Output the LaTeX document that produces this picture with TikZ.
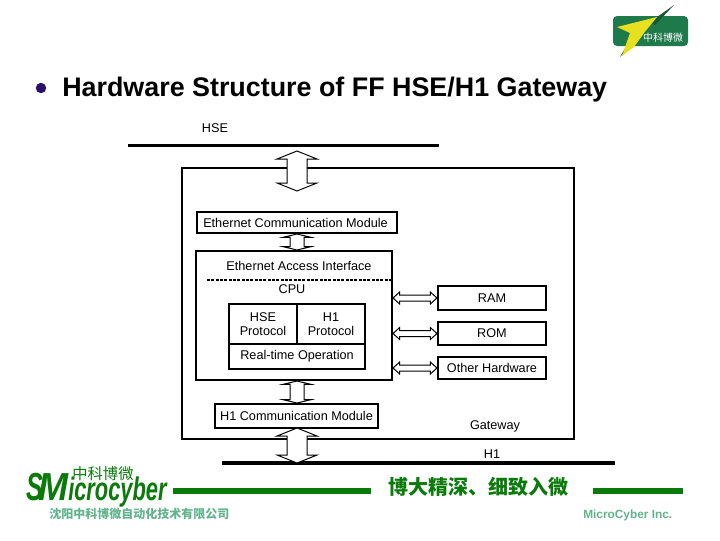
\documentclass[tikz,border=0pt]{standalone}
\usepackage{fontspec}
\setmainfont{Liberation Sans}
\newfontfamily\cjk{Noto Sans CJK SC}
\usetikzlibrary{calc}
\definecolor{logogreen}{HTML}{0A7A0A}
\definecolor{softgreen}{HTML}{62B48C}
\definecolor{badgegreen}{HTML}{1F7A4B}
\definecolor{boltyellow}{HTML}{E6E021}
\definecolor{bulletblue}{HTML}{2B0F6E}
\tikzset{
  box/.style={draw,line width=1.5pt,fill=white,inner sep=0pt,font=\fontsize{9.5}{10.5}\selectfont,align=center},
  label/.style={inner sep=0pt,font=\fontsize{9.5}{10.5}\selectfont},
  bus/.style={line width=#1,line cap=butt},
  block link/.style n args={3}{line width=.75pt,fill=white,to path={
    -- ($(\tikztostart)!#3!(\tikztotarget)!#1!90:(\tikztotarget)$)
    -- ($(\tikztostart)!#3!(\tikztotarget)!#2!90:(\tikztotarget)$)
    -- ($(\tikztotarget)!#3!(\tikztostart)!#2!-90:(\tikztostart)$)
    -- ($(\tikztotarget)!#3!(\tikztostart)!#1!-90:(\tikztostart)$)
    -- (\tikztotarget)
    -- ($(\tikztotarget)!#3!(\tikztostart)!#1!90:(\tikztostart)$)
    -- ($(\tikztotarget)!#3!(\tikztostart)!#2!90:(\tikztostart)$)
    -- ($(\tikztostart)!#3!(\tikztotarget)!#2!-90:(\tikztotarget)$)
    -- ($(\tikztostart)!#3!(\tikztotarget)!#1!-90:(\tikztotarget)$)
    -- cycle}},
  big link/.style={block link={15pt}{7.5pt}{6pt}},
  mid link/.style={block link={10.5pt}{5.25pt}{2.5pt}},
  side link/.style={block link={4.5pt}{2.25pt}{5pt}},
  logo/.style={anchor=base west,inner sep=0pt,text=logogreen,font=\bfseries\itshape}
}
\begin{document}
\begin{tikzpicture}[x=.75pt,y=-.75pt]
\useasboundingbox (0,0) rectangle (720,540);

% top right badge
\fill[badgegreen,rounded corners=3pt] (613,16) rectangle (688,46);
\fill[badgegreen!70!black] (674,5) -- (650,22) -- (655,25) -- cycle;
\fill[badgegreen!70!black] (630,40) -- (620,57) -- (636,40) -- cycle;
\fill[boltyellow] (617,27) -- (657,17) -- (644,33) -- (634,47) -- (622,56) -- (630,33) -- cycle;
\node[inner sep=0pt,text=white,font=\cjk\fontsize{7.5}{9}\selectfont] (badge) at (663,38) {中科博微};

% title
\fill[bulletblue] (41,88) circle (3.9pt);
\node[anchor=west,inner sep=0pt,font=\bfseries\fontsize{20.15}{23}\selectfont] (title) at (62,90) {Hardware Structure of FF HSE/H1 Gateway};

% gateway frame
\node[box,minimum width=294pt,minimum height=203.25pt] (gw) at (378,303.5) {};
\node[label] (hselab) at (215,128) {HSE};
\node[label] (h1lab) at (492,454) {H1};
\node[label] (gwlab) at (495,426) {Gateway};

% modules
\node[box,minimum width=150pt,minimum height=15.75pt] (eth) at (296.5,222.5) {\kern-1.5pt Ethernet Communication Module};
\node[box,minimum width=147pt,minimum height=96.75pt] (cpu) at (294,315.5) {};
\node[box,minimum width=122.25pt,minimum height=18pt] (h1m) at (296.5,416) {H1 Communication Module};
\node[label] (acc) at (299,266) {Ethernet Access Interface};
\node[label] (cpulab) at (292,289) {CPU};
\node[box,minimum width=51pt,minimum height=30pt] (hsep) at (263,324) {HSE\\Protocol};
\node[box,minimum width=51pt,minimum height=30pt] (h1p) at (331,324) {H1\\Protocol};
\node[box,minimum width=102pt,minimum height=18.75pt] (rt) at (297,356.5) {Real-time Operation};
\node[box,minimum width=81pt,minimum height=18pt] (ram) at (492,298) {RAM};
\node[box,minimum width=81pt,minimum height=17.25pt] (rom) at (492,333.5) {ROM};
\node[box,minimum width=81pt,minimum height=16.5pt] (other) at (492,368) {Other Hardware};

% ends of the links and buses
\coordinate (mid) at (297,0);
\coordinate (topA) at (297,151);
\coordinate (topB) at (297,191);
\coordinate (lowA) at (297,428);
\coordinate (lowB) at (297,463);
\coordinate (ethS) at (eth.south -| mid);
\coordinate (cpuN) at (cpu.north -| mid);
\coordinate (cpuS) at (cpu.south -| mid);
\coordinate (h1N) at (h1m.north -| mid);
\coordinate (cpuRam) at (cpu.east |- ram);
\coordinate (cpuRom) at (cpu.east |- rom);
\coordinate (cpuOth) at (cpu.east |- other);
\coordinate (hseL) at (128,145);
\coordinate (hseR) at (439,145);
\coordinate (h1L) at (222,463);
\coordinate (h1R) at (615,463);
\coordinate (dashL) at (207,280);
\coordinate (dashR) at (391,280);

\draw[bus=2.25pt] (hseL) -- (hseR);
\draw[bus=3pt] (h1L) -- (h1R);
\draw[line width=1.5pt,dash pattern=on 2.25pt off 1pt] (dashL) -- (dashR);

\draw[big link] (topA) to (topB);
\draw[big link] (lowA) to (lowB);
\draw[mid link] (ethS) to (cpuN);
\draw[mid link] (cpuS) to (h1N);
\draw[side link] (cpuRam) to (ram.west);
\draw[side link] (cpuRom) to (rom.west);
\draw[side link] (cpuOth) to (other.west);

% footer
\coordinate (lineAL) at (173,491);
\coordinate (lineAR) at (371,491);
\coordinate (lineBL) at (593,491);
\coordinate (lineBR) at (683,491);
\draw[bus=4.5pt,logogreen] (lineAL) -- (lineAR);
\draw[bus=4.5pt,logogreen] (lineBL) -- (lineBR);
\node[logo] (logoS) at (26,500) {\scalebox{1.9}[2.93]{S}};
\node[logo] (logoM) at (38,500) {\scalebox{2.7}[2.93]{M}};
\node[logo] (logoT) at (68,500) {\fontsize{18}{20}\selectfont\scalebox{.91}[1.36]{icrocyber}};
\node[anchor=west,inner sep=0pt,text=logogreen,font=\cjk\fontsize{11.5}{13}\selectfont] (logoC) at (72,474) {中科博微};
\node[anchor=west,inner sep=0pt,text=softgreen,font=\cjk\bfseries\fontsize{9}{11}\selectfont] (company) at (49,514) {沈阳中科博微自动化技术有限公司};
\node[anchor=west,inner sep=0pt,text=logogreen,font=\cjk\bfseries\fontsize{15}{18}\selectfont] (motto) at (388,487) {博大精深、细致入微};
\node[anchor=west,inner sep=0pt,text=softgreen,font=\bfseries\fontsize{8.9}{10}\selectfont] (inc) at (583,515) {MicroCyber Inc.};
\end{tikzpicture}
\end{document}
